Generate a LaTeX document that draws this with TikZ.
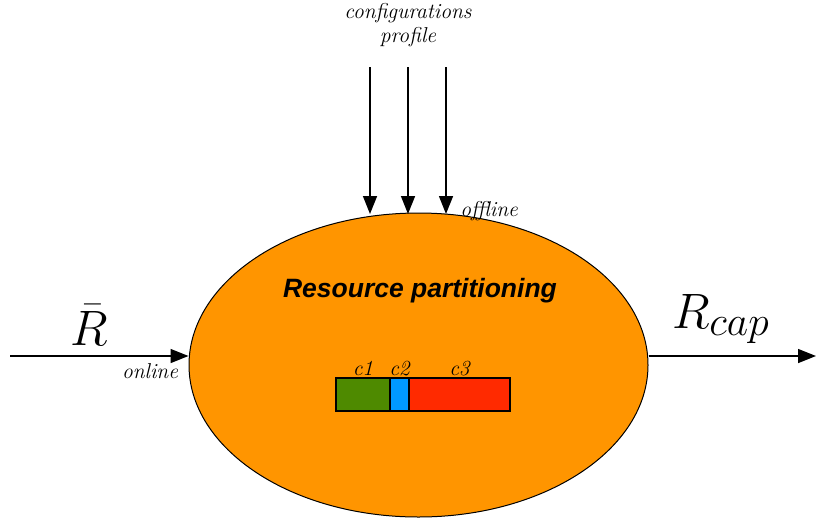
\documentclass[tikz,border=0pt]{standalone}
\usepackage{fontspec}
\newfontfamily\headfont{Liberation Sans}
\usetikzlibrary{arrows.meta,shapes.geometric}
\definecolor{blobfill}{HTML}{FF9500}
\definecolor{cgreen}{HTML}{4E8A00}
\definecolor{cblue}{HTML}{0099FF}
\definecolor{cred}{HTML}{FF2A00}
\tikzset{
  flow/.style={-{Triangle[length=18pt,width=14pt]}, line width=1.5pt},
  note/.style={font=\fontsize{21.5}{24}\selectfont\itshape, inner sep=0pt},
  part/.style={draw=black, line width=1.5pt, minimum height=33pt, inner sep=0pt, outer sep=0pt},
  bigmath/.style={font=\Huge, scale=2, inner sep=0pt}
}
\begin{document}
\begin{tikzpicture}[x=1pt,y=-1pt]
\useasboundingbox (0,0) rectangle (816,523);
% central process
\node[ellipse, draw, fill=blobfill, line width=1pt, minimum width=459pt, minimum height=304pt, inner sep=0pt] (proc) at (418.5,365) {};
\node[font=\headfont\fontsize{26.5}{30}\selectfont\bfseries\itshape] (title) at (420,291) {Resource partitioning};
% partition bar
\node[part, fill=cgreen, minimum width=54pt, anchor=north west] (c1) at (336,378) {};
\node[part, fill=cblue, minimum width=19pt, anchor=north west] (c2) at (c1.north east) {};
\node[part, fill=cred, minimum width=101pt, anchor=north west] (c3) at (c2.north east) {};
\node[note, anchor=base] (l1) at ([yshift=3pt]c1.north) {c1};
\node[note, anchor=base] (l2) at ([yshift=3pt]c2.north) {c2};
\node[note, anchor=base] (l3) at ([yshift=3pt]c3.north) {c3};
% offline inputs
\node[note, align=center] (cfg) at (408,25) {configurations\\profile};
\coordinate (a1) at (370,67);
\coordinate (a2) at (408,67);
\coordinate (a3) at (446,67);
\coordinate (b1) at (370,214);
\coordinate (b2) at (408,214);
\coordinate (b3) at (446,214);
\draw[flow] (a1) -- (b1);
\draw[flow] (a2) -- (b2);
\draw[flow] (a3) -- (b3);
\node[note] (off) at (489,211) {offline};
% online input
\coordinate (inL) at (10,356);
\draw[flow] (inL) -- (proc.west |- inL);
\node[bigmath, anchor=base west] (rbar) at (70,345) {$\bar{R}$};
\node[note] (on) at (150,371) {online};
% output
\coordinate (outR) at (816,356);
\draw[flow] (proc.east |- outR) -- (outR);
\node[bigmath, anchor=base west] (rcap) at (672,328) {$R_{cap}$};
\end{tikzpicture}
\end{document}
